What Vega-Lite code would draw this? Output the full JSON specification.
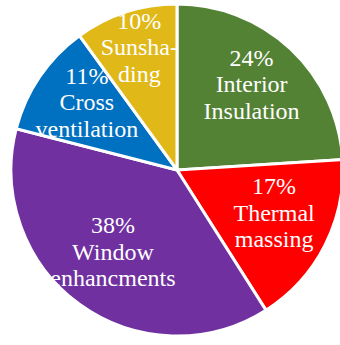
{
  "$schema": "https://vega.github.io/schema/vega-lite/v6.json",
  "width": 332,
  "height": 332,
  "autosize": {"type": "none"},
  "padding": {"left": 11, "top": 4, "right": 0, "bottom": 0},
  "background": "white",
  "view": {"stroke": null},
  "data": {
    "values": [
      {"category": "Interior Insulation", "value": 24, "order": 1, "label": "24%\nInterior\nInsulation"},
      {"category": "Thermal massing", "value": 17, "order": 2, "label": "17%\nThermal\nmassing"},
      {"category": "Window enhancments", "value": 38, "order": 3, "label": "38%\nWindow\nenhancments"},
      {"category": "Cross ventilation", "value": 11, "order": 4, "label": "11%\nCross\nventilation"},
      {"category": "Sunshading", "value": 10, "order": 5, "label": "10%\nSunsha-\nding"}
    ]
  },
  "encoding": {
    "theta": {"field": "value", "type": "quantitative", "stack": true},
    "order": {"field": "order", "type": "quantitative"}
  },
  "layer": [
    {
      "mark": {"type": "arc", "radius": 166, "stroke": "white", "strokeWidth": 3},
      "encoding": {
        "color": {
          "field": "category",
          "type": "nominal",
          "legend": null,
          "scale": {
            "domain": ["Interior Insulation", "Thermal massing", "Window enhancments", "Cross ventilation", "Sunshading"],
            "range": ["#548235", "#FF0000", "#7030A0", "#0070C0", "#E0B818"]
          }
        }
      }
    },
    {
      "mark": {"type": "text", "radius": 109, "dy": -32, "font": "Liberation Serif", "fontSize": 24, "lineHeight": 26.5, "lineBreak": "\n", "color": "white", "align": "center", "baseline": "middle"},
      "encoding": {
        "text": {"condition": {"test": "datum.category === 'Sunshading'", "value": ""}, "field": "label", "type": "nominal"}
      }
    },
    {
      "mark": {"type": "text", "radius": 122, "dy": -32, "font": "Liberation Serif", "fontSize": 24, "lineHeight": 26.5, "lineBreak": "\n", "color": "white", "align": "center", "baseline": "middle"},
      "encoding": {
        "text": {"condition": {"test": "datum.category !== 'Sunshading'", "value": ""}, "field": "label", "type": "nominal"}
      }
    }
  ]
}
